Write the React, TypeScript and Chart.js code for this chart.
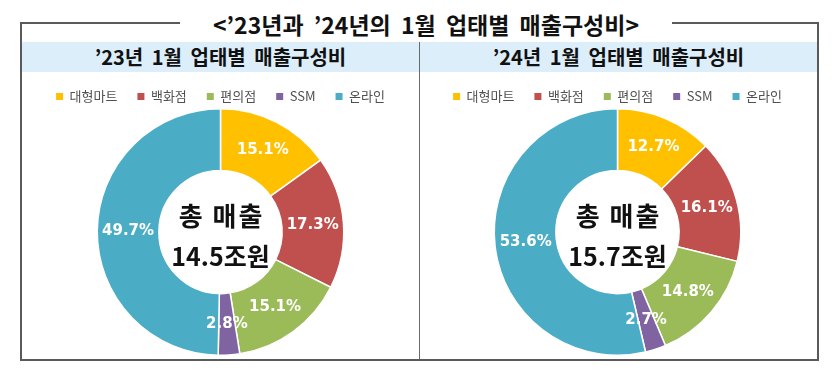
import React, { useEffect, useRef } from "react";
import { Chart, registerables } from "chart.js";

Chart.register(...registerables);

const categories = ["대형마트", "백화점", "편의점", "SSM", "온라인"];
const share2023 = [15.1, 17.3, 15.1, 2.8, 49.7];
const share2024 = [12.7, 16.1, 14.8, 2.7, 53.6];
const totals = [14.5, 15.7];
const panelTitles = ["’23년 1월 업태별 매출구성비", "’24년 1월 업태별 매출구성비"];
const mainTitle = "<’23년과 ’24년의 1월 업태별 매출구성비>";
const centerLabel = "총 매출";
const totalUnit = "조원";
const sliceColors = ["#FFC000", "#C0504D", "#9BBB59", "#8064A2", "#4BACC6"];

const KR = "'Noto Sans CJK KR', 'Noto Sans', sans-serif";

const sliceLabelPlugin = {
  id: "sliceLabels",
  afterDatasetsDraw(chart: any, _args: any, opts: any) {
    const ctx = chart.ctx;
    const meta = chart.getDatasetMeta(0);
    const data = chart.data.datasets[0].data as number[];
    ctx.save();
    ctx.textAlign = "center";
    ctx.textBaseline = "middle";
    ctx.fillStyle = "#ffffff";
    ctx.font = "bold 15px 'DejaVu Sans', sans-serif";
    meta.data.forEach((arc: any, i: number) => {
      const p = arc.tooltipPosition();
      ctx.fillText(data[i].toFixed(1) + "%", p.x, p.y);
    });
    const first = meta.data[0];
    if (first) {
      const cx = first.x;
      const cy = first.y;
      ctx.fillStyle = "#111111";
      ctx.font = `bold 26px ${KR}`;
      (ctx as any).letterSpacing = "2px";
      ctx.fillText(opts.line1, cx + 1, cy - 16);
      (ctx as any).letterSpacing = "0px";
      ctx.font = `bold 25px ${KR}`;
      ctx.fillText(opts.line2, cx, cy + 24);
    }
    ctx.restore();
  },
};

const legendFitPlugin = {
  id: "legendFit",
  beforeInit(chart: any) {
    if (!chart.legend) return;
    const orig = chart.legend.fit;
    chart.legend.fit = function () {
      orig.call(this);
      this.height -= 5;
    };
  },
};

function Donut({ values, total }: { values: number[]; total: number }) {
  const ref = useRef<HTMLCanvasElement | null>(null);
  useEffect(() => {
    if (!ref.current) return;
    const chart = new Chart(ref.current, {
      type: "doughnut",
      data: {
        labels: categories,
        datasets: [
          {
            data: values,
            backgroundColor: sliceColors,
            borderColor: "#ffffff",
            borderWidth: 1.5,
          },
        ],
      },
      options: {
        animation: false,
        responsive: false,
        cutout: "50%",
        layout: { padding: { top: 0, bottom: 4, left: 0, right: 0 } },
        plugins: {
          legend: {
            position: "top",
            labels: {
              color: "#505050",
              font: { family: KR, size: 13 },
              boxWidth: 7,
              boxHeight: 7,
              padding: 20,
              generateLabels: (c: any) =>
                (Chart as any).overrides.doughnut.plugins.legend.labels
                  .generateLabels(c)
                  .map((l: any) => ({ ...l, lineWidth: 0, strokeStyle: "rgba(0,0,0,0)" })),
            },
          },
          tooltip: { enabled: false },
          sliceLabels: { line1: centerLabel, line2: `${total}${totalUnit}` },
        } as any,
      },
      plugins: [sliceLabelPlugin, legendFitPlugin],
    });
    return () => chart.destroy();
  }, [values, total]);
  return <canvas ref={ref} width={397} height={290} style={{ display: "block" }} />;
}

export default function App() {
  const lineColor = "#5a5a5a";
  return (
    <div
      style={{
        position: "absolute",
        left: 0,
        top: 0,
        width: 837,
        height: 380,
        background: "#ffffff",
        overflow: "hidden",
        fontFamily: KR,
      }}
    >
      {/* top border segments */}
      <div style={{ position: "absolute", left: 20, top: 22, width: 160, height: 2, background: lineColor }} />
      <div style={{ position: "absolute", left: 672, top: 22, width: 147, height: 2, background: lineColor }} />
      {/* side & bottom borders */}
      <div style={{ position: "absolute", left: 20, top: 22, width: 2, height: 339, background: lineColor }} />
      <div style={{ position: "absolute", left: 817, top: 22, width: 2, height: 339, background: lineColor }} />
      <div style={{ position: "absolute", left: 20, top: 359, width: 799, height: 2, background: lineColor }} />
      {/* header band */}
      <div style={{ position: "absolute", left: 22, top: 42, width: 795, height: 30, background: "#DCEEFA" }} />
      {/* divider */}
      <div style={{ position: "absolute", left: 419, top: 42, width: 1, height: 317, background: "#6a6a6a" }} />
      {/* main title */}
      <div
        style={{
          position: "absolute",
          left: 180,
          width: 492,
          top: 8,
          height: 32,
          lineHeight: "32px",
          textAlign: "center",
          fontSize: 23,
          fontWeight: 700,
          color: "#111",
          wordSpacing: 5,
          whiteSpace: "nowrap",
        }}
      >
        {mainTitle}
      </div>
      {/* panel titles */}
      {panelTitles.map((t, i) => (
        <div
          key={t}
          style={{
            position: "absolute",
            left: i === 0 ? 22 : 420,
            width: 397,
            top: 42,
            height: 30,
            lineHeight: "30px",
            textAlign: "center",
            fontSize: 20,
            fontWeight: 700,
            color: "#111",
            wordSpacing: 4,
            whiteSpace: "nowrap",
          }}
        >
          {t}
        </div>
      ))}
      <div style={{ position: "absolute", left: 22, top: 70 }}>
        <Donut values={share2023} total={totals[0]} />
      </div>
      <div style={{ position: "absolute", left: 419, top: 70 }}>
        <Donut values={share2024} total={totals[1]} />
      </div>
    </div>
  );
}
